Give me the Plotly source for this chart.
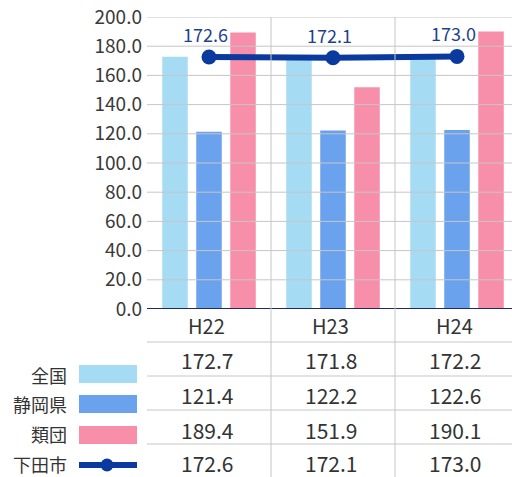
import plotly.graph_objects as go

categories = ["H22", "H23", "H24"]
zenkoku = [172.7, 171.8, 172.2]
shizuoka = [121.4, 122.2, 122.6]
ruidan = [189.4, 151.9, 190.1]
shimoda = [172.6, 172.1, 173.0]
series_names = ["全国", "静岡県", "類団", "下田市"]
y_ticks = [0, 20, 40, 60, 80, 100, 120, 140, 160, 180, 200]

C_ZEN = "#a6dbf4"
C_SHI = "#6aa2ee"
C_RUI = "#f78fab"
C_LINE = "#0a3a9e"
GRID = "#c6c6c6"
TXT = "#333333"
FONT = "Noto Sans CJK JP"

W, H = 512, 477
ML, MT, MB = 147, 17, 168
PH = H - MT - MB  # plot height px
PW = W - ML

def py(pix):
    return (MT + PH - pix) / PH

def px(pix):
    return (pix - ML) / PW

fig = go.Figure()
for name, vals, col in [(series_names[0], zenkoku, C_ZEN),
                        (series_names[1], shizuoka, C_SHI),
                        (series_names[2], ruidan, C_RUI)]:
    fig.add_trace(go.Bar(x=categories, y=vals, name=name, marker_color=col,
                         marker_line_width=0, showlegend=False))

fig.add_trace(go.Scatter(x=categories, y=shimoda, name=series_names[3],
                         mode="lines+markers",
                         line=dict(color=C_LINE, width=6),
                         marker=dict(size=15, color=C_LINE),
                         showlegend=False, cliponaxis=False))

shapes = []
# horizontal gridlines above bars
for t in y_ticks:
    if t == 0:
        continue
    shapes.append(dict(type="line", xref="paper", yref="y", x0=0, x1=1, y0=t, y1=t,
                       line=dict(color=GRID, width=1), layer="above"))
# zero line
shapes.append(dict(type="line", xref="paper", yref="y", x0=0, x1=1, y0=0, y1=0,
                   line=dict(color="#1c2c5c", width=2), layer="above"))
# vertical separators between categories
for i in range(len(categories) - 1):
    shapes.append(dict(type="line", xref="x", yref="paper", x0=i + 0.5, x1=i + 0.5,
                       y0=py(H), y1=1, line=dict(color=GRID, width=1), layer="above"))
# table horizontal lines
for pix in [342, 376, 410, 444]:
    shapes.append(dict(type="line", xref="paper", yref="paper", x0=0, x1=1,
                       y0=py(pix), y1=py(pix), line=dict(color=GRID, width=1)))

annotations = []
# data labels of the line
for c, v in zip(categories, shimoda):
    annotations.append(dict(x=c, xref="x", y=v, yref="y", text=f"{v:.1f}", showarrow=False,
                            yshift=23, xshift=-4, borderpad=0,
                            font=dict(size=18, color="#1f3f8f", family=FONT)))
# header row
for c in categories:
    annotations.append(dict(x=c, xref="x", y=py(326), yref="paper", text=c, showarrow=False,
                            borderpad=0, xshift=-3,
                            font=dict(size=20, color=TXT, family=FONT), yanchor="middle"))
rows = [zenkoku, shizuoka, ruidan, shimoda]
row_y = [360, 395, 430, 463]
for vals, ry in zip(rows, row_y):
    for c, v in zip(categories, vals):
        annotations.append(dict(x=c, xref="x", y=py(ry), yref="paper", text=f"{v:.1f}",
                                showarrow=False, borderpad=0, xshift=-2,
                                font=dict(size=21, color=TXT, family=FONT),
                                yanchor="middle"))

# legend
leg_label_y = [375, 404, 434, 464]
for name, ly in zip(series_names, leg_label_y):
    annotations.append(dict(x=px(68), xref="paper", y=py(ly), yref="paper", text=name,
                            showarrow=False, xanchor="right", yanchor="middle", borderpad=0,
                            font=dict(size=18, color=TXT, family=FONT)))
for col, (a, b) in zip([C_ZEN, C_SHI, C_RUI], [(365, 383), (395, 413), (426, 444)]):
    shapes.append(dict(type="rect", xref="paper", yref="paper", x0=px(79), x1=px(137),
                       y0=py(b), y1=py(a), fillcolor=col, line=dict(width=0)))
shapes.append(dict(type="line", xref="paper", yref="paper", x0=px(79), x1=px(137),
                   y0=py(465), y1=py(465), line=dict(color=C_LINE, width=6)))
shapes.append(dict(type="circle", xref="paper", yref="paper", xsizemode="pixel",
                   ysizemode="pixel", xanchor=px(107), yanchor=py(465),
                   x0=-6.5, x1=6.5, y0=-6.5, y1=6.5, fillcolor=C_LINE, line=dict(width=0)))

fig.update_layout(
    width=W, height=H,
    margin=dict(l=ML, r=0, t=MT, b=MB),
    paper_bgcolor="white", plot_bgcolor="white",
    barmode="group", bargap=0.177, bargroupgap=0.25,
    showlegend=False,
    font=dict(family=FONT, color=TXT),
    shapes=shapes, annotations=annotations,
    xaxis=dict(range=[-0.5, -0.5 + PW / 124.0], showticklabels=False, showgrid=False,
               zeroline=False, showline=False, fixedrange=True),
    yaxis=dict(range=[0, 200], tickvals=y_ticks, tickformat=".1f", showgrid=False,
               zeroline=False, showline=False, ticks="",
               tickfont=dict(size=19, color="#3a3a3a", family=FONT), ticklabelstandoff=4,
               fixedrange=True),
)

fig.write_html("out.html")
